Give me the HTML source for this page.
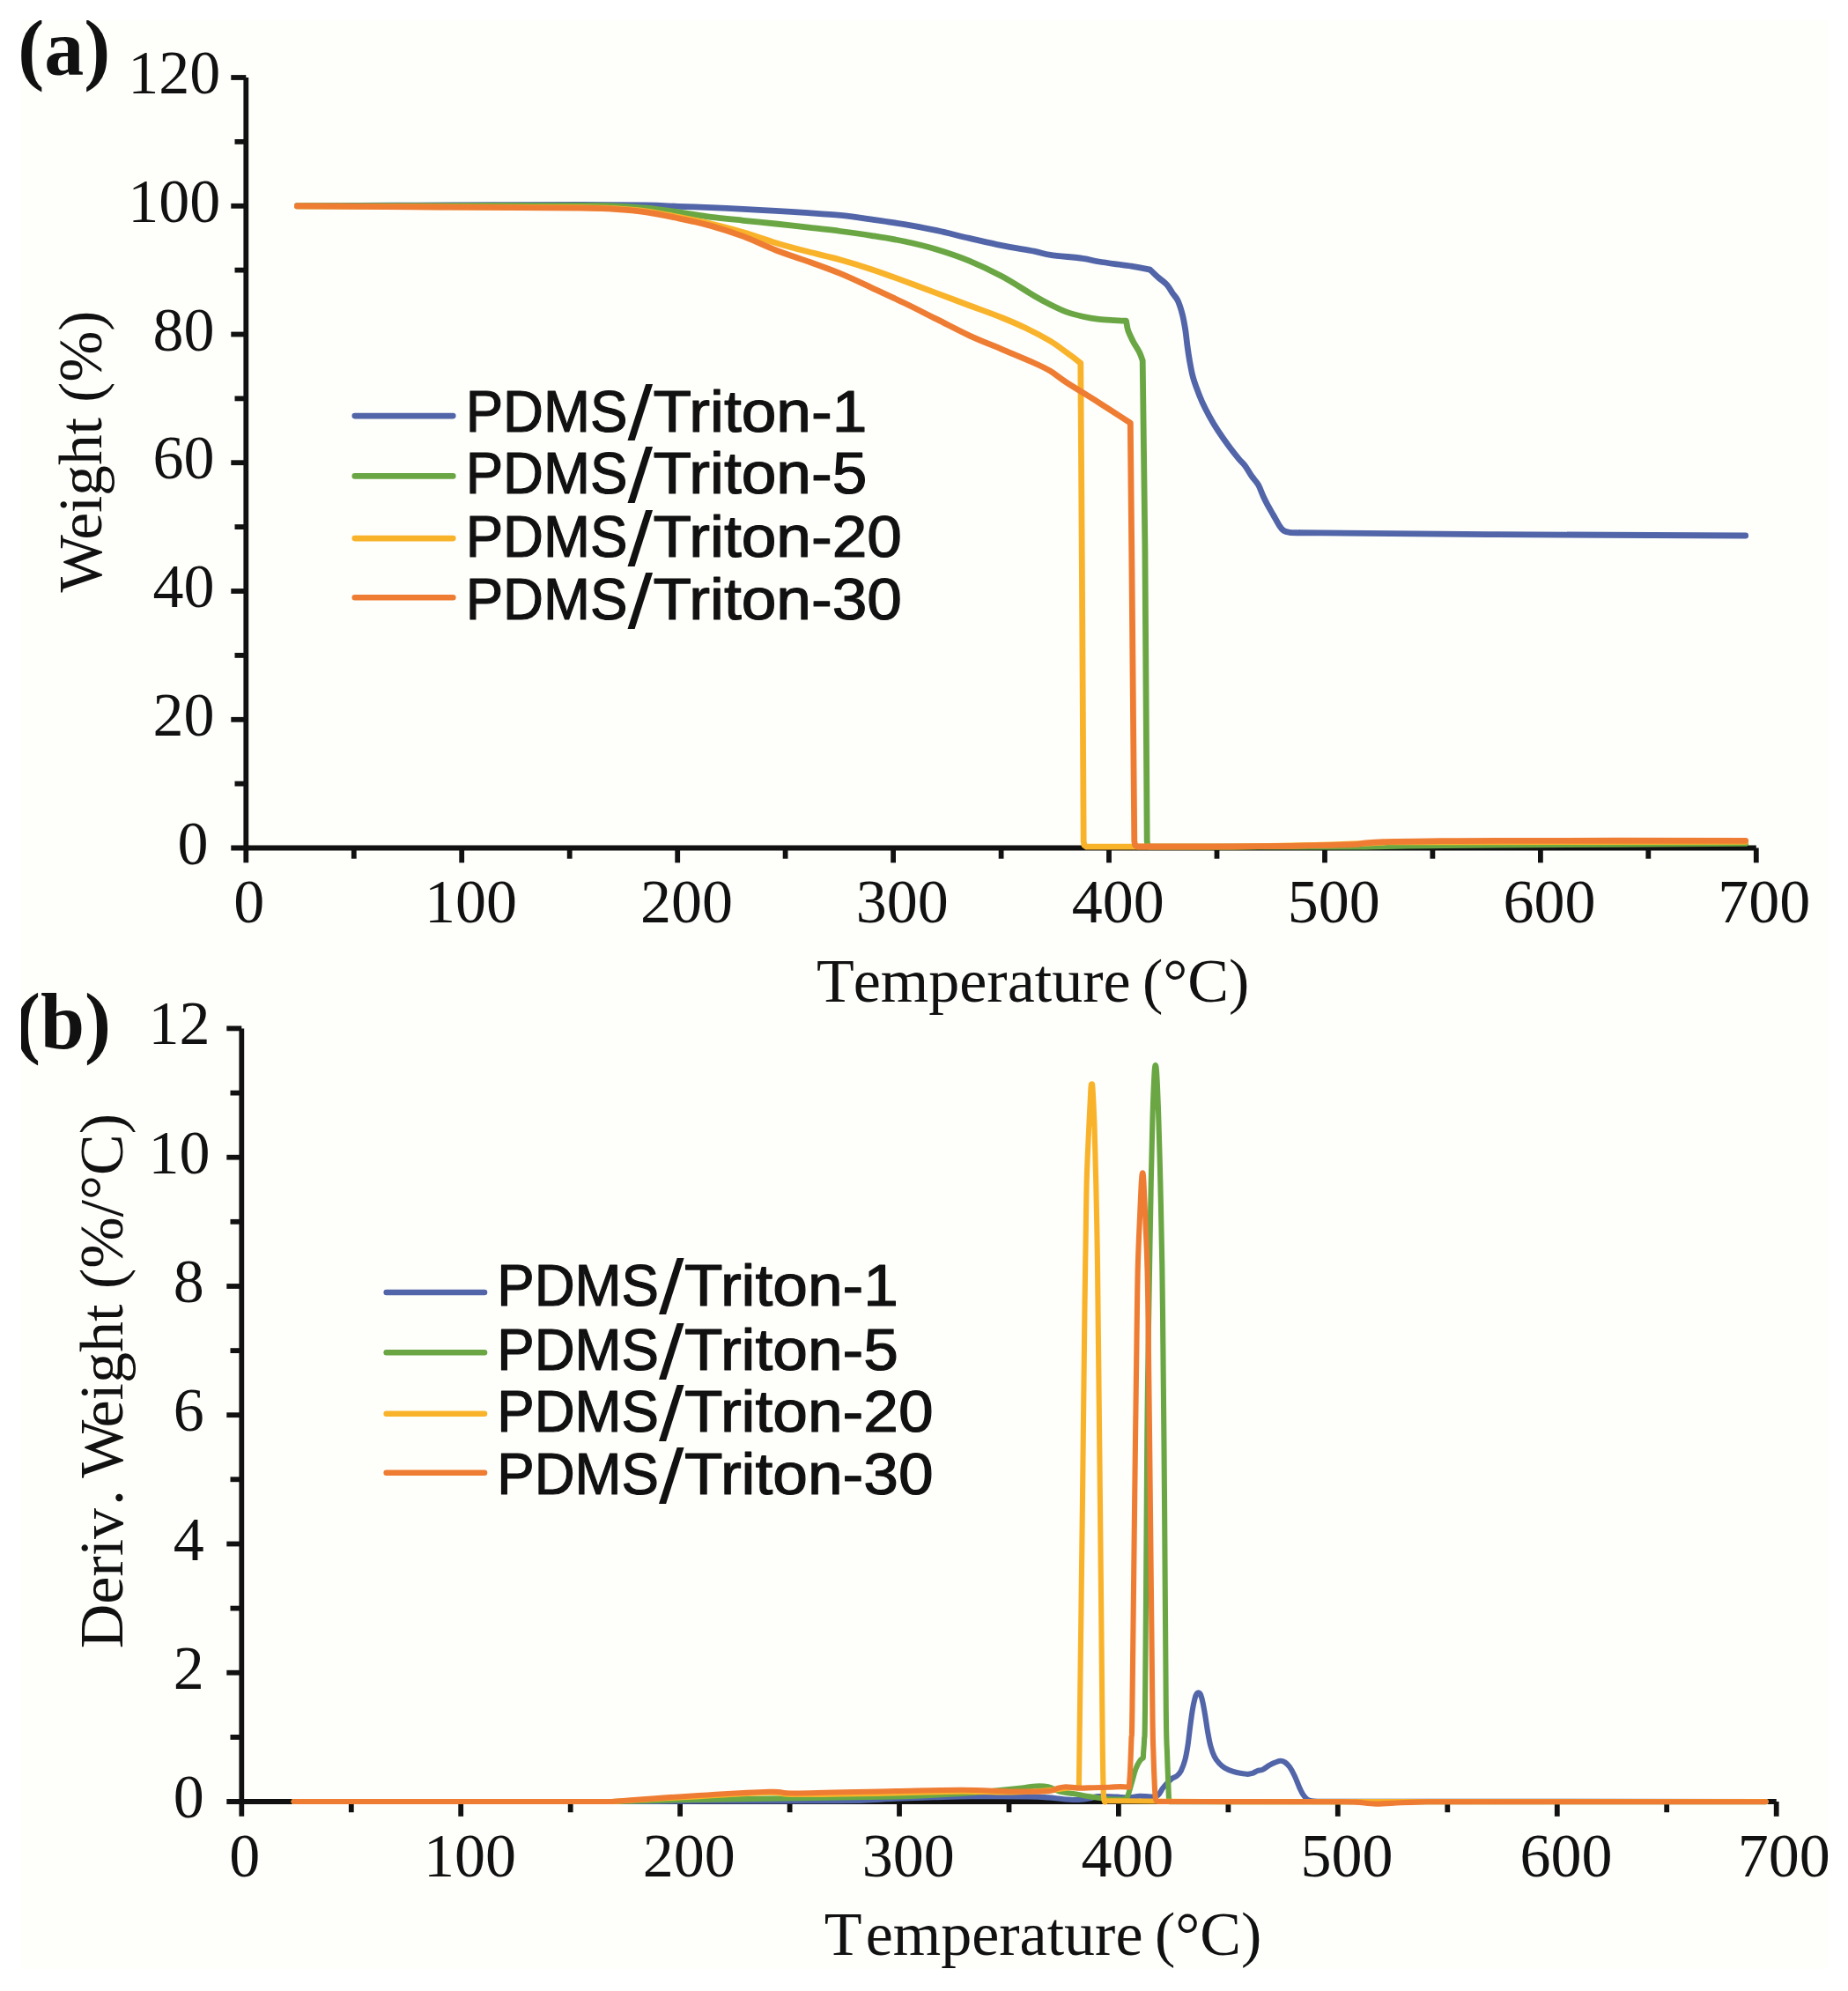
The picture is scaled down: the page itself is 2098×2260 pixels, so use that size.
<!DOCTYPE html>
<html lang="en"><head><meta charset="utf-8"><title>TGA and DTG curves of PDMS/Triton</title>
<style>
html,body{margin:0;padding:0;background:#fff;}
body{width:2098px;height:2260px;overflow:hidden;}
svg{display:block;}
.t{font-family:"Liberation Serif",serif;fill:#111111;}
.s{font-family:"Liberation Sans",sans-serif;fill:#111111;}
</style></head><body>
<svg width="2098" height="2260" viewBox="0 0 2098 2260">
<rect x="0" y="0" width="2098" height="2260" fill="#ffffff"/>
<rect x="24" y="23" width="2051" height="2212" fill="#fefefb"/>

<g stroke="#111111" stroke-width="5.8" fill="none">
<line x1="279.3" y1="88.0" x2="279.3" y2="979.3"/>
<line x1="262.3" y1="962.5" x2="1993.8" y2="962.5"/>
<line x1="266.5" y1="889.6" x2="279.3" y2="889.6"/>
<line x1="262.3" y1="816.8" x2="279.3" y2="816.8"/>
<line x1="266.5" y1="743.9" x2="279.3" y2="743.9"/>
<line x1="262.3" y1="671.0" x2="279.3" y2="671.0"/>
<line x1="266.5" y1="598.1" x2="279.3" y2="598.1"/>
<line x1="262.3" y1="525.2" x2="279.3" y2="525.2"/>
<line x1="266.5" y1="452.4" x2="279.3" y2="452.4"/>
<line x1="262.3" y1="379.5" x2="279.3" y2="379.5"/>
<line x1="266.5" y1="306.6" x2="279.3" y2="306.6"/>
<line x1="262.3" y1="233.8" x2="279.3" y2="233.8"/>
<line x1="266.5" y1="160.9" x2="279.3" y2="160.9"/>
<line x1="262.3" y1="88.0" x2="279.3" y2="88.0"/>
<line x1="401.8" y1="962.5" x2="401.8" y2="974.7"/>
<line x1="524.2" y1="962.5" x2="524.2" y2="979.3"/>
<line x1="646.7" y1="962.5" x2="646.7" y2="974.7"/>
<line x1="769.2" y1="962.5" x2="769.2" y2="979.3"/>
<line x1="891.6" y1="962.5" x2="891.6" y2="974.7"/>
<line x1="1014.1" y1="962.5" x2="1014.1" y2="979.3"/>
<line x1="1136.6" y1="962.5" x2="1136.6" y2="974.7"/>
<line x1="1259.0" y1="962.5" x2="1259.0" y2="979.3"/>
<line x1="1381.5" y1="962.5" x2="1381.5" y2="974.7"/>
<line x1="1504.0" y1="962.5" x2="1504.0" y2="979.3"/>
<line x1="1626.4" y1="962.5" x2="1626.4" y2="974.7"/>
<line x1="1748.9" y1="962.5" x2="1748.9" y2="979.3"/>
<line x1="1871.3" y1="962.5" x2="1871.3" y2="974.7"/>
<line x1="1993.8" y1="962.5" x2="1993.8" y2="979.3"/>
</g>
<g stroke="#111111" stroke-width="5.8" fill="none">
<line x1="274.3" y1="1167.4" x2="274.3" y2="2061.8"/>
<line x1="257.3" y1="2045.0" x2="2016.7" y2="2045.0"/>
<line x1="261.5" y1="1971.9" x2="274.3" y2="1971.9"/>
<line x1="257.3" y1="1898.7" x2="274.3" y2="1898.7"/>
<line x1="261.5" y1="1825.6" x2="274.3" y2="1825.6"/>
<line x1="257.3" y1="1752.5" x2="274.3" y2="1752.5"/>
<line x1="261.5" y1="1679.3" x2="274.3" y2="1679.3"/>
<line x1="257.3" y1="1606.2" x2="274.3" y2="1606.2"/>
<line x1="261.5" y1="1533.1" x2="274.3" y2="1533.1"/>
<line x1="257.3" y1="1460.0" x2="274.3" y2="1460.0"/>
<line x1="261.5" y1="1386.8" x2="274.3" y2="1386.8"/>
<line x1="257.3" y1="1313.7" x2="274.3" y2="1313.7"/>
<line x1="261.5" y1="1240.6" x2="274.3" y2="1240.6"/>
<line x1="257.3" y1="1167.4" x2="274.3" y2="1167.4"/>
<line x1="398.8" y1="2045.0" x2="398.8" y2="2057.2"/>
<line x1="523.2" y1="2045.0" x2="523.2" y2="2061.8"/>
<line x1="647.7" y1="2045.0" x2="647.7" y2="2057.2"/>
<line x1="772.1" y1="2045.0" x2="772.1" y2="2061.8"/>
<line x1="896.6" y1="2045.0" x2="896.6" y2="2057.2"/>
<line x1="1021.0" y1="2045.0" x2="1021.0" y2="2061.8"/>
<line x1="1145.5" y1="2045.0" x2="1145.5" y2="2057.2"/>
<line x1="1269.9" y1="2045.0" x2="1269.9" y2="2061.8"/>
<line x1="1394.4" y1="2045.0" x2="1394.4" y2="2057.2"/>
<line x1="1518.8" y1="2045.0" x2="1518.8" y2="2061.8"/>
<line x1="1643.3" y1="2045.0" x2="1643.3" y2="2057.2"/>
<line x1="1767.8" y1="2045.0" x2="1767.8" y2="2061.8"/>
<line x1="1892.2" y1="2045.0" x2="1892.2" y2="2057.2"/>
<line x1="2016.7" y1="2045.0" x2="2016.7" y2="2061.8"/>
</g>
<g class="t" font-size="70" text-anchor="end">
<text x="236.6" y="980.5">0</text>
<text x="243.4" y="834.8">20</text>
<text x="243.4" y="689.0">40</text>
<text x="243.4" y="543.2">60</text>
<text x="243.4" y="397.5">80</text>
<text x="250.3" y="251.8">100</text>
<text x="250.3" y="106.0">120</text>
<text x="231.7" y="2063.0">0</text>
<text x="231.7" y="1916.7">2</text>
<text x="231.7" y="1770.5">4</text>
<text x="231.7" y="1624.2">6</text>
<text x="231.7" y="1478.0">8</text>
<text x="238.5" y="1331.7">10</text>
<text x="238.5" y="1185.4">12</text>
</g>
<g class="t" font-size="70" text-anchor="middle">
<text x="282.7" y="1047.3">0</text>
<text x="534.4" y="1047.3">100</text>
<text x="779.4" y="1047.3">200</text>
<text x="1024.3" y="1047.3">300</text>
<text x="1269.2" y="1047.3">400</text>
<text x="1514.2" y="1047.3">500</text>
<text x="1759.1" y="1047.3">600</text>
<text x="2002.7" y="1047.3">700</text>
<text x="277.7" y="2130.3">0</text>
<text x="533.4" y="2130.3">100</text>
<text x="782.3" y="2130.3">200</text>
<text x="1031.2" y="2130.3">300</text>
<text x="1280.1" y="2130.3">400</text>
<text x="1529.0" y="2130.3">500</text>
<text x="1778.0" y="2130.3">600</text>
<text x="2025.3" y="2130.3">700</text>
</g>
<text class="t" font-size="70" x="926.9" y="1136.8">T<tspan dx="4">emperature</tspan><tspan dx="-4"> (°C)</tspan></text>
<text class="t" font-size="70" x="935.8" y="2218.9">T<tspan dx="9">emperature</tspan><tspan dx="-4"> (°C)</tspan></text>
<text class="t" font-size="70" transform="translate(115,672.6) rotate(-90) scale(0.991,1)">Weight (%)</text>
<text class="t" font-size="70" transform="translate(138.9,1871.3) rotate(-90)">Deriv<tspan dx="7.7">.</tspan><tspan dx="-2.7"> W</tspan><tspan dx="-3.3">eight (%/°C)</tspan></text>
<text class="t" font-size="90" font-weight="bold" x="20.2" y="85">(a)</text>
<text class="t" font-size="90" font-weight="bold" x="16" y="1190">(b)</text>
<path d="M337.4 233.6C356.2 233.5 412.9 233.4 450.0 233.2C487.1 233.0 525.0 232.7 560.0 232.6C595.0 232.5 631.1 232.4 660.0 232.5C688.9 232.6 715.2 232.7 733.6 233.0C752.0 233.3 758.1 233.9 770.4 234.3C782.7 234.7 794.9 235.1 807.2 235.6C819.5 236.1 831.7 236.8 844.0 237.4C856.3 238.0 868.5 238.6 880.8 239.3C893.1 240.0 905.3 240.8 917.6 241.7C929.9 242.5 942.3 243.2 954.4 244.4C966.5 245.7 977.9 247.5 990.0 249.2C1002.1 250.9 1014.5 252.6 1026.8 254.7C1039.1 256.8 1051.3 259.1 1063.6 261.7C1075.9 264.3 1088.1 267.6 1100.4 270.4C1112.7 273.2 1124.9 276.2 1137.2 278.6C1149.5 281.1 1164.8 283.3 1174.0 285.1C1183.2 286.9 1183.2 287.9 1192.4 289.3C1201.6 290.7 1220.0 292.1 1229.2 293.4C1238.4 294.7 1238.4 295.5 1247.6 297.0C1256.8 298.5 1274.7 300.7 1284.4 302.2C1294.1 303.7 1302.2 305.5 1305.7 306.2C1307.2 307.6 1311.7 312.1 1314.9 314.9C1318.1 317.7 1322.0 320.2 1324.8 323.2C1327.5 326.2 1329.3 330.1 1331.4 333.1C1333.5 336.1 1335.4 337.5 1337.2 341.4C1339.0 345.3 1340.8 351.1 1342.2 356.3C1343.6 361.6 1344.5 366.8 1345.5 372.9C1346.5 379.0 1347.2 386.7 1348.0 392.8C1348.8 398.9 1349.5 403.8 1350.5 409.3C1351.5 414.8 1352.5 420.9 1353.8 425.9C1355.0 430.9 1356.2 434.2 1358.0 439.2C1359.8 444.2 1362.1 450.3 1364.6 455.8C1367.1 461.3 1369.9 466.8 1372.9 472.3C1375.9 477.8 1379.2 483.4 1382.8 488.9C1386.4 494.4 1390.5 500.2 1394.4 505.5C1398.3 510.8 1402.8 516.5 1406.0 520.4C1409.2 524.3 1411.0 525.4 1413.5 528.7C1416.0 532.0 1418.4 536.7 1420.9 540.3C1423.4 543.9 1426.2 546.3 1428.4 550.2C1430.6 554.1 1432.4 559.6 1434.2 563.5C1436.0 567.4 1437.3 569.8 1439.2 573.4C1441.1 577.0 1443.6 581.1 1445.8 585.0C1448.0 588.9 1450.5 593.7 1452.4 596.6C1454.3 599.5 1455.5 601.1 1457.4 602.4C1459.3 603.7 1461.1 604.0 1464.0 604.4C1466.9 604.8 1473.2 604.7 1475.0 604.8C1479.2 604.8 1462.5 604.6 1500.0 604.9C1537.5 605.2 1619.7 606.1 1700.0 606.6C1780.3 607.1 1934.8 607.8 1981.7 608.0" fill="none" stroke="#5165a8" stroke-width="6.8" stroke-linejoin="round" stroke-linecap="round"/>
<path d="M337.4 233.8C364.5 233.8 446.2 233.7 500.0 233.6C553.8 233.5 627.2 233.4 660.0 233.4C692.8 233.4 684.5 233.3 696.8 233.8C709.1 234.3 721.3 235.0 733.6 236.2C745.9 237.4 758.1 239.1 770.4 240.8C782.7 242.5 794.9 244.7 807.2 246.3C819.5 247.9 831.7 249.0 844.0 250.3C856.3 251.6 868.5 252.7 880.8 254.0C893.1 255.3 905.3 256.8 917.6 258.2C929.9 259.6 942.3 260.9 954.4 262.5C966.5 264.1 977.9 265.7 990.0 267.6C1002.1 269.5 1014.5 271.4 1026.8 274.0C1039.1 276.6 1051.3 279.5 1063.6 283.2C1075.9 286.9 1088.1 291.0 1100.4 296.1C1112.7 301.2 1124.9 307.0 1137.2 313.6C1149.5 320.2 1164.8 330.3 1174.0 335.7C1183.2 341.1 1186.3 342.7 1192.4 345.8C1198.5 348.9 1204.7 351.9 1210.8 354.1C1216.9 356.3 1223.1 357.8 1229.2 359.2C1235.3 360.6 1241.5 361.7 1247.6 362.4C1253.7 363.1 1260.8 363.3 1266.0 363.6C1271.2 363.9 1276.4 364.1 1278.5 364.2C1278.9 366.0 1279.4 371.4 1280.7 375.2C1282.0 379.0 1284.1 383.0 1286.2 387.2C1288.3 391.4 1291.8 396.4 1293.6 400.1C1295.4 403.8 1296.6 407.8 1297.2 409.3L1299.9 620.0L1302.2 955.0L1302.9 959.5L1305.5 961.2L1400.0 961.2L1550.0 961.0C1562.0 960.8 1597.0 960.1 1622.0 959.8C1647.0 959.5 1640.0 959.5 1700.0 959.1C1760.0 958.7 1934.8 957.7 1981.7 957.4" fill="none" stroke="#6aa744" stroke-width="6.8" stroke-linejoin="round" stroke-linecap="round"/>
<path d="M337.4 233.8C364.5 234.0 446.2 234.5 500.0 234.8C553.8 235.1 627.2 235.3 660.0 235.6C692.8 235.9 684.5 236.0 696.8 236.7C709.1 237.4 721.3 238.2 733.6 239.8C745.9 241.4 758.1 243.9 770.4 246.3C782.7 248.7 794.9 251.1 807.2 254.0C819.5 256.9 831.7 260.2 844.0 263.8C856.3 267.4 868.5 272.0 880.8 275.7C893.1 279.4 905.3 282.6 917.6 285.8C929.9 289.0 942.3 291.6 954.4 295.0C966.5 298.4 977.9 301.9 990.0 305.9C1002.1 309.9 1014.5 314.6 1026.8 319.1C1039.1 323.6 1051.3 328.3 1063.6 332.9C1075.9 337.5 1088.1 342.1 1100.4 346.7C1112.7 351.3 1126.5 356.2 1137.2 360.5C1147.9 364.8 1155.6 368.1 1164.8 372.5C1174.0 376.9 1184.7 382.6 1192.4 387.2C1200.1 391.8 1205.1 396.0 1210.8 400.1C1216.5 404.2 1224.1 410.0 1226.8 412.0L1228.4 650.0L1230.2 955.0L1230.9 959.5L1233.5 961.2L1400.0 961.2C1411.0 961.0 1443.3 960.5 1466.0 960.0C1488.7 959.5 1518.7 958.6 1536.0 958.0C1553.3 957.4 1555.7 956.7 1570.0 956.3C1584.3 955.9 1553.4 955.9 1622.0 955.8C1690.6 955.6 1921.8 955.5 1981.7 955.4" fill="none" stroke="#f9b32b" stroke-width="6.8" stroke-linejoin="round" stroke-linecap="round"/>
<path d="M337.4 233.9C364.5 234.1 446.2 234.6 500.0 235.0C553.8 235.4 627.2 235.8 660.0 236.2C692.8 236.6 684.5 236.6 696.8 237.4C709.1 238.2 721.3 239.1 733.6 240.8C745.9 242.5 758.1 245.2 770.4 247.8C782.7 250.4 794.9 253.0 807.2 256.4C819.5 259.8 831.7 263.8 844.0 268.4C856.3 273.0 868.5 279.2 880.8 284.0C893.1 288.8 905.3 292.4 917.6 296.9C929.9 301.3 942.3 305.7 954.4 310.7C966.5 315.7 977.9 321.2 990.0 326.8C1002.1 332.4 1014.5 338.1 1026.8 344.0C1039.1 349.9 1051.3 356.3 1063.6 362.4C1075.9 368.5 1088.1 375.1 1100.4 380.8C1112.7 386.5 1124.9 391.2 1137.2 396.4C1149.5 401.6 1164.8 407.9 1174.0 412.0C1183.2 416.1 1186.3 417.5 1192.4 421.2C1198.5 424.9 1201.6 428.1 1210.8 434.1C1220.0 440.1 1235.5 449.4 1247.6 457.1C1259.7 464.8 1277.3 476.3 1283.3 480.1L1285.0 650.0L1287.8 955.0L1288.6 959.3L1291.4 961.0L1380.0 960.8C1394.4 960.7 1440.6 960.7 1466.6 960.3C1492.6 959.9 1522.5 959.1 1535.8 958.6C1549.1 958.1 1540.4 957.9 1546.2 957.4C1552.0 956.9 1557.8 956.0 1570.5 955.6C1583.2 955.2 1600.8 955.0 1622.4 954.8C1644.0 954.6 1640.1 954.4 1700.0 954.3C1759.9 954.2 1934.8 954.3 1981.7 954.3" fill="none" stroke="#ee7d33" stroke-width="6.8" stroke-linejoin="round" stroke-linecap="round"/>
<path d="M333.7 2045.0C394.8 2045.0 622.3 2045.1 700.0 2045.0C777.7 2044.9 758.2 2044.5 800.0 2044.4C841.8 2044.3 915.0 2044.7 951.0 2044.3C987.0 2043.9 997.8 2042.5 1016.0 2041.8C1034.2 2041.1 1045.5 2040.6 1060.0 2040.2C1074.5 2039.8 1085.0 2039.3 1103.0 2039.2C1121.0 2039.1 1153.5 2039.3 1168.0 2039.5C1182.5 2039.7 1183.5 2040.0 1190.0 2040.4C1196.5 2040.9 1201.5 2041.8 1207.3 2042.2C1213.1 2042.6 1219.5 2043.2 1224.6 2043.0C1229.6 2042.8 1234.0 2042.0 1237.6 2041.3C1241.2 2040.6 1241.2 2039.4 1246.3 2039.1C1251.3 2038.8 1262.9 2039.4 1267.9 2039.6C1273.0 2039.8 1273.7 2040.3 1276.6 2040.4C1279.5 2040.5 1282.3 2040.3 1285.2 2040.0C1288.1 2039.7 1290.3 2038.8 1293.9 2038.7C1297.5 2038.6 1303.4 2039.8 1306.9 2039.6C1310.4 2039.4 1312.5 2039.4 1314.7 2037.8C1316.9 2036.2 1318.2 2032.3 1319.9 2030.0C1321.6 2027.7 1323.4 2025.8 1325.1 2024.0C1326.8 2022.2 1328.1 2020.7 1330.0 2019.3C1331.9 2017.9 1334.7 2017.0 1336.5 2015.5C1338.3 2014.0 1339.3 2013.0 1340.8 2010.1C1342.2 2007.2 1343.9 2002.9 1345.2 1998.2C1346.5 1993.5 1347.4 1988.3 1348.4 1982.0C1349.4 1975.7 1350.2 1967.1 1351.1 1960.3C1352.0 1953.5 1352.9 1946.3 1353.8 1940.9C1354.7 1935.5 1355.7 1931.0 1356.5 1927.9C1357.3 1924.8 1358.0 1923.6 1358.7 1922.5C1359.4 1921.4 1360.1 1921.2 1360.8 1921.4C1361.5 1921.6 1362.2 1921.5 1363.0 1923.5C1363.8 1925.5 1364.8 1929.1 1365.7 1933.3C1366.6 1937.5 1367.5 1943.0 1368.4 1948.4C1369.3 1953.8 1370.1 1960.2 1371.1 1965.8C1372.1 1971.4 1373.1 1977.3 1374.4 1982.0C1375.7 1986.7 1377.1 1990.7 1378.7 1993.9C1380.3 1997.2 1382.1 1999.3 1384.1 2001.5C1386.1 2003.7 1388.1 2005.4 1390.6 2006.9C1393.1 2008.4 1396.4 2009.7 1399.3 2010.7C1402.2 2011.7 1405.0 2012.3 1407.9 2012.8C1410.8 2013.3 1414.2 2013.9 1416.6 2013.9C1418.9 2013.9 1420.2 2013.4 1422.0 2012.8C1423.8 2012.2 1425.4 2010.8 1427.4 2010.1C1429.4 2009.4 1431.7 2009.5 1433.9 2008.5C1436.1 2007.5 1438.2 2005.5 1440.4 2004.2C1442.6 2002.9 1444.7 2001.8 1446.9 2000.9C1449.1 2000.0 1451.4 1998.9 1453.4 1998.8C1455.4 1998.7 1457.0 1999.2 1458.8 2000.4C1460.6 2001.6 1462.4 2003.3 1464.2 2005.8C1466.0 2008.3 1467.8 2011.7 1469.6 2015.5C1471.4 2019.3 1473.4 2024.9 1475.0 2028.5C1476.6 2032.1 1478.0 2034.9 1479.4 2037.2C1480.9 2039.5 1482.1 2040.9 1483.7 2042.1C1485.3 2043.3 1486.8 2043.8 1489.1 2044.2C1491.4 2044.7 1496.3 2044.7 1497.7 2044.8L2004.6 2045.0" fill="none" stroke="#5165a8" stroke-width="6.1" stroke-linejoin="round" stroke-linecap="round"/>
<path d="M333.7 2045.0L700.0 2045.0C711.7 2044.7 741.2 2043.8 770.0 2043.2C798.8 2042.6 831.8 2042.2 873.0 2041.6C914.2 2041.0 980.5 2040.4 1017.0 2039.5C1053.5 2038.6 1073.2 2037.2 1092.0 2036.0C1110.8 2034.8 1118.7 2033.6 1130.0 2032.5C1141.3 2031.4 1152.4 2030.3 1160.0 2029.5C1167.6 2028.7 1170.8 2027.7 1175.8 2027.5C1180.8 2027.3 1185.5 2027.3 1190.0 2028.3C1194.5 2029.3 1198.7 2032.3 1203.0 2033.5C1207.3 2034.7 1211.0 2034.8 1216.0 2035.7C1221.0 2036.6 1227.5 2037.8 1233.3 2038.7C1239.1 2039.6 1246.3 2040.7 1250.6 2041.3C1254.9 2041.9 1255.0 2042.0 1259.3 2042.2C1263.6 2042.4 1273.1 2042.6 1276.6 2042.2C1280.0 2041.8 1278.6 2042.9 1280.0 2039.6C1281.4 2036.3 1283.6 2027.6 1285.2 2022.3C1286.8 2017.0 1288.1 2011.4 1289.6 2007.5C1291.0 2003.6 1292.5 2000.9 1293.9 1998.9C1295.3 1996.9 1297.2 1996.0 1297.8 1995.4C1297.9 1994.2 1298.0 1992.0 1298.2 1988.5C1298.4 1985.0 1298.8 1982.7 1299.1 1974.6C1299.4 1966.5 1299.5 1985.8 1300.0 1940.0C1300.5 1894.2 1301.4 1756.7 1301.8 1700.0C1302.2 1643.3 1302.2 1635.0 1302.6 1600.0C1303.0 1565.0 1303.5 1533.2 1304.2 1490.0C1304.9 1446.8 1306.1 1378.2 1306.8 1340.7C1307.5 1303.2 1308.0 1285.4 1308.6 1265.3C1309.2 1245.2 1309.9 1229.5 1310.4 1220.1C1310.9 1210.7 1311.3 1209.1 1311.8 1209.1C1312.3 1209.1 1312.7 1210.7 1313.3 1220.1C1313.9 1229.5 1314.5 1245.2 1315.2 1265.3C1315.9 1285.4 1316.7 1315.6 1317.3 1340.7C1317.9 1365.8 1318.5 1391.1 1318.9 1416.0C1319.4 1440.9 1319.5 1442.7 1320.0 1490.0C1320.5 1537.3 1321.4 1625.0 1322.0 1700.0C1322.6 1775.0 1323.3 1891.3 1323.8 1940.0C1324.3 1988.7 1324.7 1977.5 1325.1 1991.9C1325.5 2006.3 1326.1 2018.0 1326.4 2026.6C1326.8 2035.1 1326.7 2040.1 1327.2 2043.2C1327.7 2046.3 1329.1 2044.9 1329.5 2045.2L2004.6 2045.2" fill="none" stroke="#6aa744" stroke-width="6.1" stroke-linejoin="round" stroke-linecap="round"/>
<path d="M333.7 2045.0L694.7 2045.0C707.3 2044.2 740.8 2042.2 770.5 2040.5C800.2 2038.8 850.6 2035.6 872.7 2035.0C894.8 2034.4 879.0 2036.9 903.0 2037.0C927.0 2037.1 985.1 2036.0 1016.7 2035.4C1048.3 2034.8 1070.4 2033.8 1092.4 2033.6C1114.5 2033.4 1133.2 2034.7 1149.0 2034.5C1164.8 2034.3 1176.2 2033.3 1187.0 2032.5C1197.8 2031.7 1207.3 2030.0 1213.6 2029.5C1219.9 2029.0 1223.0 2029.2 1224.9 2029.2C1225.2 2007.7 1225.8 1954.9 1226.5 1900.0C1227.2 1845.1 1228.2 1768.3 1229.0 1700.0C1229.8 1631.7 1230.8 1537.3 1231.4 1490.0C1232.0 1442.7 1232.1 1440.9 1232.5 1416.0C1232.9 1391.1 1233.1 1363.3 1233.7 1340.7C1234.3 1318.1 1235.4 1298.0 1236.2 1280.4C1237.0 1262.8 1237.9 1243.3 1238.4 1235.2C1239.0 1227.1 1239.2 1231.7 1239.5 1231.7C1239.8 1231.7 1240.0 1227.1 1240.5 1235.2C1241.0 1243.3 1242.0 1262.8 1242.6 1280.4C1243.2 1298.0 1243.7 1318.1 1244.2 1340.7C1244.7 1363.3 1245.3 1391.1 1245.7 1416.0C1246.1 1440.9 1246.1 1442.7 1246.6 1490.0C1247.1 1537.3 1248.1 1625.0 1248.9 1700.0C1249.7 1775.0 1250.7 1884.2 1251.3 1940.0C1251.9 1995.8 1252.0 2017.6 1252.8 2035.0C1253.5 2052.4 1255.3 2042.7 1255.8 2044.2L1400.0 2045.2L2004.6 2045.0" fill="none" stroke="#f9b32b" stroke-width="6.1" stroke-linejoin="round" stroke-linecap="round"/>
<path d="M333.7 2045.0L694.7 2045.0C707.3 2044.1 740.8 2041.4 770.5 2039.5C800.2 2037.6 850.6 2034.5 872.7 2033.8C894.8 2033.1 879.0 2035.6 903.0 2035.5C927.0 2035.4 985.1 2033.6 1016.7 2033.0C1048.3 2032.4 1070.4 2031.7 1092.4 2031.8C1114.5 2031.9 1132.7 2033.3 1149.0 2033.5C1165.3 2033.7 1181.4 2033.7 1190.0 2033.1C1198.6 2032.5 1197.1 2030.8 1200.4 2030.0C1203.7 2029.2 1205.9 2028.4 1209.9 2028.3C1213.9 2028.2 1219.3 2029.4 1224.6 2029.6C1229.9 2029.8 1236.1 2029.3 1241.9 2029.2C1247.7 2029.1 1254.2 2028.9 1259.3 2028.7C1264.4 2028.5 1268.5 2028.1 1272.3 2028.1C1276.0 2028.1 1280.2 2028.6 1281.8 2028.7C1282.0 2025.5 1282.7 2018.3 1283.1 2009.3C1283.5 2000.3 1284.0 1986.1 1284.4 1974.6C1284.8 1963.0 1284.8 1985.8 1285.4 1940.0C1286.0 1894.2 1287.3 1775.0 1288.2 1700.0C1289.1 1625.0 1290.3 1534.8 1290.9 1490.0C1291.5 1445.2 1291.5 1448.4 1292.0 1431.1C1292.5 1413.8 1293.1 1401.0 1293.8 1385.9C1294.5 1370.8 1295.3 1349.8 1295.9 1340.7C1296.5 1331.6 1296.8 1331.4 1297.2 1331.4C1297.6 1331.4 1297.9 1331.6 1298.4 1340.7C1298.9 1349.8 1299.8 1370.8 1300.4 1385.9C1301.0 1401.0 1301.7 1413.8 1302.2 1431.1C1302.7 1448.4 1302.8 1445.2 1303.4 1490.0C1304.0 1534.8 1305.0 1625.0 1305.8 1700.0C1306.6 1775.0 1307.8 1891.3 1308.4 1940.0C1309.0 1988.7 1309.1 1977.5 1309.5 1991.9C1309.9 2006.3 1310.4 2018.2 1310.8 2026.6C1311.2 2035.0 1311.4 2039.2 1312.1 2042.2C1312.8 2045.2 1314.3 2044.5 1314.7 2044.9L1520.0 2045.2C1523.3 2045.3 1533.0 2045.2 1540.0 2045.6C1547.0 2046.0 1553.7 2047.5 1562.0 2047.6C1570.3 2047.7 1580.3 2046.7 1590.0 2046.3C1599.7 2045.9 1615.0 2045.4 1620.0 2045.2L2004.6 2045.2" fill="none" stroke="#ee7d33" stroke-width="6.1" stroke-linejoin="round" stroke-linecap="round"/>
<line x1="402.8" y1="472.1" x2="514.3" y2="472.1" stroke="#5165a8" stroke-width="6.6" stroke-linecap="round"/>
<g class="s" font-size="67" stroke="#111111" stroke-width="1.2" stroke-linejoin="round"><text transform="translate(528.66,489.5) scale(0.95,1)">PDMS</text><text font-size="87.5" stroke="none" transform="translate(712.45,499.3) scale(1.175,1)">/</text><text transform="translate(741.45,489.5) scale(1.064,1)">Triton-1</text></g>
<line x1="402.8" y1="540.4" x2="514.3" y2="540.4" stroke="#6aa744" stroke-width="6.6" stroke-linecap="round"/>
<g class="s" font-size="67" stroke="#111111" stroke-width="1.2" stroke-linejoin="round"><text transform="translate(528.66,560.4) scale(0.95,1)">PDMS</text><text font-size="87.5" stroke="none" transform="translate(712.45,570.2) scale(1.175,1)">/</text><text transform="translate(741.45,560.4) scale(1.064,1)">Triton-5</text></g>
<line x1="402.8" y1="611.1" x2="514.3" y2="611.1" stroke="#f9b32b" stroke-width="6.6" stroke-linecap="round"/>
<g class="s" font-size="67" stroke="#111111" stroke-width="1.2" stroke-linejoin="round"><text transform="translate(528.66,631.8) scale(0.95,1)">PDMS</text><text font-size="87.5" stroke="none" transform="translate(712.45,641.6) scale(1.175,1)">/</text><text transform="translate(741.45,631.8) scale(1.064,1)">Triton-20</text></g>
<line x1="402.8" y1="678.2" x2="514.3" y2="678.2" stroke="#ee7d33" stroke-width="6.6" stroke-linecap="round"/>
<g class="s" font-size="67" stroke="#111111" stroke-width="1.2" stroke-linejoin="round"><text transform="translate(528.66,702.7) scale(0.95,1)">PDMS</text><text font-size="87.5" stroke="none" transform="translate(712.45,712.5) scale(1.175,1)">/</text><text transform="translate(741.45,702.7) scale(1.064,1)">Triton-30</text></g>
<line x1="438.7" y1="1467" x2="550" y2="1467" stroke="#5165a8" stroke-width="6.6" stroke-linecap="round"/>
<g class="s" font-size="67" stroke="#111111" stroke-width="1.2" stroke-linejoin="round"><text transform="translate(564.21,1481.6) scale(0.95,1)">PDMS</text><text font-size="87.5" stroke="none" transform="translate(748.00,1491.4) scale(1.175,1)">/</text><text transform="translate(777.00,1481.6) scale(1.064,1)">Triton-1</text></g>
<line x1="438.7" y1="1535.2" x2="550" y2="1535.2" stroke="#6aa744" stroke-width="6.6" stroke-linecap="round"/>
<g class="s" font-size="67" stroke="#111111" stroke-width="1.2" stroke-linejoin="round"><text transform="translate(564.21,1554.8) scale(0.95,1)">PDMS</text><text font-size="87.5" stroke="none" transform="translate(748.00,1564.6) scale(1.175,1)">/</text><text transform="translate(777.00,1554.8) scale(1.064,1)">Triton-5</text></g>
<line x1="438.7" y1="1604.8" x2="550" y2="1604.8" stroke="#f9b32b" stroke-width="6.6" stroke-linecap="round"/>
<g class="s" font-size="67" stroke="#111111" stroke-width="1.2" stroke-linejoin="round"><text transform="translate(564.21,1625.4) scale(0.95,1)">PDMS</text><text font-size="87.5" stroke="none" transform="translate(748.00,1635.2) scale(1.175,1)">/</text><text transform="translate(777.00,1625.4) scale(1.064,1)">Triton-20</text></g>
<line x1="438.7" y1="1671.8" x2="550" y2="1671.8" stroke="#ee7d33" stroke-width="6.6" stroke-linecap="round"/>
<g class="s" font-size="67" stroke="#111111" stroke-width="1.2" stroke-linejoin="round"><text transform="translate(564.21,1696.3) scale(0.95,1)">PDMS</text><text font-size="87.5" stroke="none" transform="translate(748.00,1706.1) scale(1.175,1)">/</text><text transform="translate(777.00,1696.3) scale(1.064,1)">Triton-30</text></g>
<rect x="0" y="0" width="24" height="2260" fill="#ffffff"/>
<rect x="0" y="2235" width="2098" height="25" fill="#ffffff"/>
<rect x="0" y="0" width="2098" height="23" fill="#ffffff"/>
</svg></body></html>
